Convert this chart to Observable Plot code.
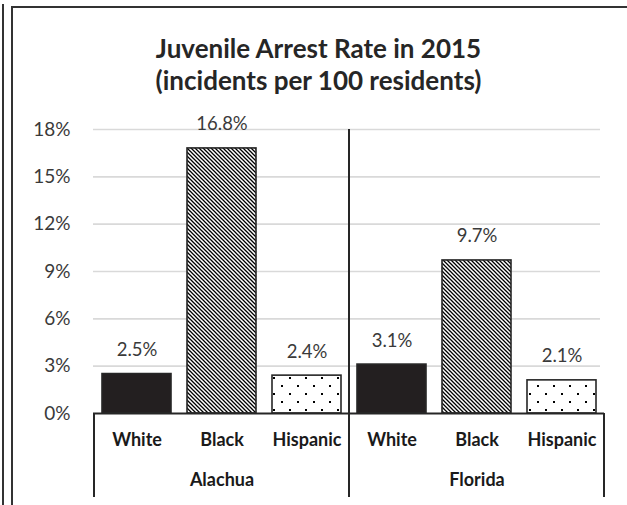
<!DOCTYPE html>
<html><head><meta charset="utf-8">
<script src="https://cdn.jsdelivr.net/npm/d3@7"></script>
<script src="https://cdn.jsdelivr.net/npm/@observablehq/plot@0.6"></script>
<style>
body{margin:0;background:#fff;width:627px;height:505px;overflow:hidden;position:relative;font-family:Lato,"Open Sans",sans-serif;}
.ln{position:absolute;background:#333;}
#title{height:105px;box-sizing:border-box;padding-top:32px;padding-left:10px;line-height:32px;text-align:center;font-weight:bold;font-size:26px;color:#262626;}
#chart svg{display:block;}
</style></head><body>
<div class="ln" style="left:2px;top:4px;width:2px;height:501px"></div>
<div class="ln" style="left:11px;top:6px;width:2px;height:499px"></div>
<div class="ln" style="left:11px;top:6px;width:616px;height:2px"></div>
<div id="title">Juvenile Arrest Rate in 2015<br>(incidents per 100 residents)</div>
<div id="chart"></div>
<script>
const regions = ["Alachua", "Florida"];
const races = ["White", "Black", "Hispanic"];
const alachuaRates = [2.5, 16.8, 2.4];
const floridaRates = [3.1, 9.7, 2.1];
const yTicks = [0, 3, 6, 9, 12, 15, 18];

const ratesByRegion = [alachuaRates, floridaRates];
const rows = regions.flatMap((region, i) => races.map((race, j) => ({
  region, race, key: region + "|" + race, value: ratesByRegion[i][j]
})));
const keys = rows.map(d => d.key);
const middleKeys = regions.map(r => r + "|" + races[1]);

const plot = Plot.plot({
  width: 627,
  height: 400,
  marginTop: 24,
  marginBottom: 92,
  marginLeft: 93,
  marginRight: 23,
  style: {fontFamily: "Lato, 'Open Sans', sans-serif", background: "transparent", overflow: "visible"},
  x: {domain: keys, paddingInner: 0.19, paddingOuter: 0.095, label: null},
  y: {domain: [0, 18], label: null},
  color: {domain: races, range: ["#231f20", "url(#hatch)", "url(#dots)"]},
  marks: [
    Plot.ruleY(yTicks.slice(1), {stroke: "#d9d9d9", strokeWidth: 1.6, insetRight: 4}),
    Plot.axisY({ticks: yTicks, tickFormat: d => d + "%", tickSize: 0, tickPadding: 23, fontSize: 19, color: "#3a3a3a"}),
    Plot.barY(rows, {x: "key", y: "value", fill: "race", stroke: "#262626", strokeWidth: 1.6}),
    Plot.text(rows, {x: "key", y: "value", text: d => d.value.toFixed(1) + "%", dy: -24, fontSize: 18.5, fill: "#3a3a3a", lineAnchor: "middle"}),
    Plot.ruleY([0], {stroke: "#262626", strokeWidth: 2}),
    Plot.axisX({tickFormat: k => k.split("|")[1], tickSize: 0, tickPadding: 20, fontSize: 18, fontWeight: "bold", color: "#1a1a1a"}),
    Plot.axisX({ticks: middleKeys, tickFormat: k => k.split("|")[0], tickSize: 0, tickPadding: 60, fontSize: 18, fontWeight: "bold", color: "#1a1a1a"})
  ]
});

const svg = d3.select(plot);
const defs = svg.insert("defs", ":first-child");
const hatch = defs.append("pattern").attr("id", "hatch").attr("patternUnits", "userSpaceOnUse")
  .attr("width", 4).attr("height", 4);
hatch.append("rect").attr("width", 4).attr("height", 4).attr("fill", "#fff");
hatch.append("path").attr("d", "M-1,-1L5,5M-1,3L1,5M3,-1L5,1").attr("stroke", "#000").attr("stroke-width", 1.3);
const dots = defs.append("pattern").attr("id", "dots").attr("patternUnits", "userSpaceOnUse")
  .attr("width", 16).attr("height", 16);
dots.append("rect").attr("width", 16).attr("height", 16).attr("fill", "#fff");
dots.append("rect").attr("x", 1).attr("y", 0).attr("width", 2).attr("height", 2).attr("fill", "#000");
dots.append("rect").attr("x", 9).attr("y", 8).attr("width", 2).attr("height", 2).attr("fill", "#000");

// group boundary lines from the band scale
const xs = plot.scale("x"), ys = plot.scale("y");
const gap = (xs.step - xs.bandwidth) / 2;
const y0 = ys.apply(0), yTop = ys.apply(18);
const yBottom = y0 + 84;
const lines = [
  {x: xs.apply(keys[0]) - gap, top: y0},
  {x: xs.apply(keys[races.length]) - gap, top: yTop},
  {x: xs.apply(keys[keys.length - 1]) + xs.bandwidth + gap, top: y0}
];
svg.append("g").selectAll("line").data(lines).join("line")
  .attr("x1", d => d.x).attr("x2", d => d.x)
  .attr("y1", d => d.top).attr("y2", yBottom)
  .attr("stroke", "#262626").attr("stroke-width", 2);

document.getElementById("chart").append(plot);
</script>
</body></html>
